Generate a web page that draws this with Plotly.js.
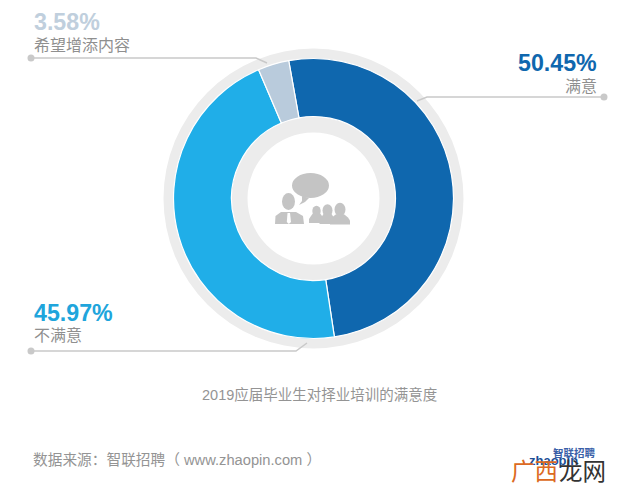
<!DOCTYPE html>
<html><head><meta charset="utf-8">
<script src="https://cdn.plot.ly/plotly-3.0.1.min.js"></script>
<style>html,body{margin:0;padding:0;background:#fff}#c{width:640px;height:501px}</style>
</head><body><div id="c"></div>
<script>
const categories = ['满意','不满意','希望增添内容'];
const shares = [50.45,45.97,3.58];
const sliceColors = ['#0f67ae','#20aee8','#b9cbdc'];
const shareLabels = ['50.45%','45.97%','3.58%'];
const W=640,H=501,CX=313.5,CY=198.5;
const CJK='"Liberation Sans","Noto Sans CJK SC","Noto Sans",sans-serif', LAT='"Liberation Sans",Arial,sans-serif';
const px=x=>x/W, py=y=>1-y/H;
const dom=r=>({x:[px(CX-r),px(CX+r)],y:[py(CY+r),py(CY-r)]});
const ring={type:'pie',values:[1],labels:['底环'],sort:false,hole:66/150,domain:dom(150),
  marker:{colors:['#ececec'],line:{width:0}},textinfo:'none',hoverinfo:'skip',showlegend:false};
const donut={type:'pie',values:shares,labels:categories,sort:false,direction:'clockwise',rotation:-10.2,
  hole:82/140,domain:dom(140),marker:{colors:sliceColors,line:{color:'#ffffff',width:1.2}},
  textinfo:'none',showlegend:false};
function T(text,x,y,size,color,anchor,font,bold){
  return {text:bold?'<b>'+text+'</b>':text,xref:'paper',yref:'paper',x:px(x),y:py(y),xanchor:anchor||'left',yanchor:'middle',
    showarrow:false,font:{size,color,family:font||CJK},borderpad:0,borderwidth:0};
}
const LINE='#c9c9c9',ICON='#c4c4c4';
const P=a=>'M'+a.map(p=>px(p[0])+','+py(p[1])).join('L');
const leader=pts=>({type:'path',xref:'paper',yref:'paper',path:P(pts),line:{color:LINE,width:1.5}});
const circ=(x,y,rx,ry,c)=>({type:'circle',xref:'paper',yref:'paper',x0:px(x-rx),x1:px(x+rx),y0:py(y+ry),y1:py(y-ry),fillcolor:c,line:{width:0}});
const poly=(pts,c)=>({type:'path',xref:'paper',yref:'paper',path:P(pts)+'Z',fillcolor:c,line:{width:0}});
const person=(x,top,hr,bw,bot)=>[
  circ(x,top+hr*1.2,hr,hr*1.25,ICON),
  poly([[x-bw,bot],[x-bw,bot-4],[x-bw+2,bot-7],[x-hr*0.8,bot-10],[x+hr*0.8,bot-10],[x+bw-2,bot-7],[x+bw,bot-4],[x+bw,bot]],ICON)];
const shapes=[
  leader([[31,58],[256,58],[267,63]]),circ(31,58,3.5,3.5,LINE),
  leader([[604,97],[427,97],[417,101]]),circ(604,97,3.5,3.5,LINE),
  leader([[31,351],[296,351],[307,343]]),circ(31,351,3.5,3.5,LINE),
  circ(310.5,185.5,18.5,12.5,ICON),
  poly([[302,196],[309,198],[305,202],[299,205],[302,201]],ICON),
  poly([[275,224],[275.5,216],[281,212],[296,212],[303,216],[304,224]],ICON),
  circ(288.5,201.5,6.5,8.5,ICON),
  poly([[287.5,213],[290,213],[291,222],[288.8,224],[286.8,222]],'#ffffff'),
  ...person(316.5,206,4.2,7.5,223),
  ...person(327.5,204.5,5,8,224),
  ...person(340,203,5.5,10,224.5)
];
const annotations=[
  T(shareLabels[2],34,22,23.2,'#c0cfdd','left',LAT,true),
  T(categories[2],34,46,16,'#8f8f8f'),
  T(shareLabels[0],597,63,23.2,'#0f67ae','right',LAT,true),
  T(categories[0],597,86,16,'#8f8f8f','right'),
  T(shareLabels[1],34,313,23.2,'#20a5dc','left',LAT,true),
  T(categories[1],34,335,16,'#8f8f8f'),
  T('2019应届毕业生对择业培训的满意度',319,394,14.5,'#949494','center'),
  T('数据来源：智联招聘（ www.zhaopin.com ）',33,459.5,14.7,'#949494'),
  T('<b>zhaopin</b>',529,460,13,'#1d4f96','left',LAT),
  T('<b>智联招聘</b>',553,453,10.5,'#3a5fa8','left'),
  T('广西',511,472,23.5,'#dc6a22'),
  T('龙网',558.5,472,23.5,'#333333')
];
Plotly.newPlot('c',[ring,donut],{width:W,height:H,margin:{l:0,r:0,t:0,b:0},paper_bgcolor:'#fff',showlegend:false,shapes,annotations},{displayModeBar:false,staticPlot:true});
</script></body></html>
